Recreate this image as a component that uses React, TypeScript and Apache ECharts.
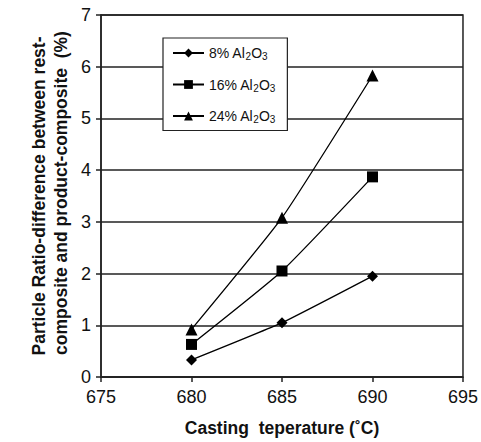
import React, { useEffect, useRef } from "react";
import * as echarts from "echarts";

const temperatures = [680, 685, 690];
const s8 = [0.33, 1.05, 1.95];
const s16 = [0.63, 2.05, 3.87];
const s24 = [0.92, 3.08, 5.83];
const seriesNames = ["8% Al2O3", "16% Al2O3", "24% Al2O3"];
const legendLabels: Record<string, string> = {
  "8% Al2O3": "8% Al{sub|2}O{sub|3}",
  "16% Al2O3": "16% Al{sub|2}O{sub|3}",
  "24% Al2O3": "24% Al{sub|2}O{sub|3}",
};
const yNameLines = ["Particle Ratio-difference between rest-", "composite and product-composite  (%)"];
const xName = "Casting  teperature (˚C)";

const FONT = "Liberation Sans, Arial, sans-serif";

export default function App() {
  const ref = useRef<HTMLDivElement>(null);
  useEffect(() => {
    if (!ref.current) return;
    const chart = echarts.init(ref.current, undefined, { renderer: "svg" });
    const mk = (vals: number[]) => temperatures.map((t, i) => [t, vals[i]]);
    const lineStyle = { color: "#000", width: 1.3 };
    const yNameStyle = {
      fontFamily: FONT,
      fontWeight: "bold",
      fontSize: 17.5,
      fill: "#111",
      align: "center",
      verticalAlign: "middle",
    };
    chart.setOption({
      animation: false,
      backgroundColor: "#fff",
      textStyle: { fontFamily: FONT },
      grid: {
        left: 101,
        top: 15,
        right: 16,
        bottom: 63,
        show: true,
        borderColor: "#222",
        borderWidth: 1.5,
      },
      graphic: [
        {
          type: "text",
          x: 39,
          y: 196,
          rotation: Math.PI / 2,
          style: { ...yNameStyle, text: yNameLines[0] },
        },
        {
          type: "text",
          x: 61,
          y: 193,
          rotation: Math.PI / 2,
          style: { ...yNameStyle, text: yNameLines[1] },
        },
      ],
      legend: {
        left: 163,
        top: 38,
        orient: "vertical",
        data: seriesNames,
        backgroundColor: "#fff",
        borderColor: "#222",
        borderWidth: 1.2,
        padding: [8, 12, 6, 9],
        itemWidth: 31,
        itemHeight: 11,
        itemGap: 16,
        formatter: (n: string) => legendLabels[n],
        textStyle: {
          fontFamily: FONT,
          fontSize: 14,
          color: "#111",
          rich: {
            sub: { fontSize: 10, fontFamily: FONT, color: "#111", verticalAlign: "bottom", padding: [7, 0, 0, 0] },
          },
        },
      },
      xAxis: {
        type: "value",
        min: 675,
        max: 695,
        interval: 5,
        name: xName,
        nameLocation: "middle",
        nameGap: 42,
        nameTextStyle: { fontFamily: FONT, fontWeight: "bold", fontSize: 17.5, color: "#111" },
        axisLine: { lineStyle: { color: "#222", width: 1.5 } },
        axisTick: { show: true, length: 5, lineStyle: { color: "#222", width: 1.5 } },
        axisLabel: { fontFamily: FONT, fontSize: 18, color: "#111", margin: 11 },
        splitLine: { show: false },
      },
      yAxis: {
        type: "value",
        min: 0,
        max: 7,
        interval: 1,
        axisLine: { show: true, lineStyle: { color: "#222", width: 1.5 } },
        axisTick: { show: true, length: 5, lineStyle: { color: "#222", width: 1.5 } },
        axisLabel: { fontFamily: FONT, fontSize: 18, color: "#111", margin: 10 },
        splitLine: { show: true, lineStyle: { color: "#222", width: 1.6 } },
      },
      series: [
        {
          name: seriesNames[0],
          type: "line",
          data: mk(s8),
          symbol: "diamond",
          symbolSize: 11,
          smooth: 0.15,
          lineStyle,
          itemStyle: { color: "#000" },
        },
        {
          name: seriesNames[1],
          type: "line",
          data: mk(s16),
          symbol: "rect",
          symbolSize: 11,
          smooth: 0.15,
          lineStyle,
          itemStyle: { color: "#000" },
        },
        {
          name: seriesNames[2],
          type: "line",
          data: mk(s24),
          symbol: "triangle",
          symbolSize: 12,
          smooth: 0.15,
          lineStyle,
          itemStyle: { color: "#000" },
        },
      ],
    });
    return () => chart.dispose();
  }, []);
  return (
    <div
      ref={ref}
      style={{ position: "fixed", left: 0, top: 0, width: 481, height: 442, background: "#fff" }}
    />
  );
}
